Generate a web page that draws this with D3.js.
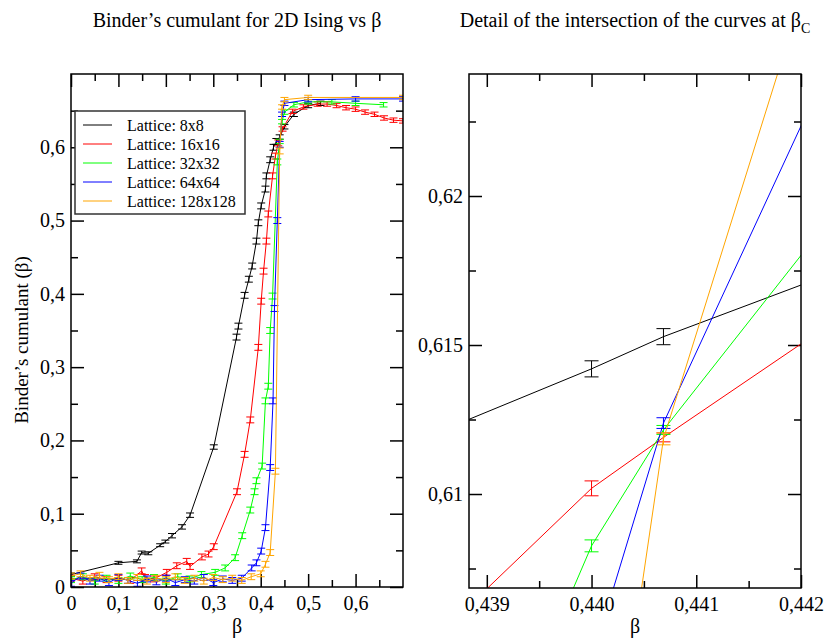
<!DOCTYPE html>
<html>
<head>
<meta charset="utf-8">
<script src="https://cdn.jsdelivr.net/npm/d3@7"></script>
<style>
  body { margin: 0; background: #fff; }
  svg text { font-family: "Liberation Serif", "DejaVu Serif", serif; }
</style>
</head>
<body>
<svg id="chart" width="825" height="640"></svg>
<script>
// Lattice sizes and colours
const lattices = ['8x8', '16x16', '32x32', '64x64', '128x128']
const colors = ['#000000', '#ff0000', '#00ff00', '#0000ff', '#ffa500']

// Left panel: [beta, U, error]
const u8 = [
  [0, 0.017, 0.002], [0.1, 0.033, 0.002], [0.139, 0.035, 0.002], [0.149, 0.047, 0.002],
  [0.163, 0.046, 0.002], [0.188, 0.057, 0.002], [0.199, 0.062, 0.002], [0.213, 0.070, 0.003],
  [0.234, 0.082, 0.003], [0.251, 0.098, 0.003], [0.301, 0.191, 0.003], [0.349, 0.341, 0.004],
  [0.353, 0.356, 0.004], [0.366, 0.398, 0.004], [0.375, 0.42, 0.004], [0.382, 0.438, 0.004],
  [0.391, 0.472, 0.004], [0.395, 0.497, 0.004], [0.401, 0.52, 0.004], [0.41, 0.543, 0.004],
  [0.412, 0.561, 0.004], [0.42, 0.583, 0.004], [0.427, 0.600, 0.004], [0.433, 0.608, 0.004],
  [0.44, 0.614, 0.003], [0.45, 0.628, 0.003], [0.47, 0.645, 0.003], [0.5, 0.657, 0.003],
  [0.526, 0.660, 0.003]
]
const u16 = [
  [0, 0.012, 0.004], [0.025, 0.008, 0.004], [0.05, 0.014, 0.004], [0.075, 0.010, 0.004],
  [0.1, 0.012, 0.004], [0.125, 0.009, 0.004], [0.149, 0.022, 0.004], [0.156, 0.013, 0.004],
  [0.175, 0.011, 0.004], [0.202, 0.020, 0.004], [0.223, 0.029, 0.004], [0.244, 0.035, 0.004],
  [0.251, 0.028, 0.004], [0.276, 0.041, 0.004], [0.29, 0.045, 0.004], [0.301, 0.055, 0.004],
  [0.35, 0.130, 0.004], [0.366, 0.181, 0.004], [0.378, 0.228, 0.004], [0.395, 0.327, 0.004],
  [0.401, 0.39, 0.004], [0.406, 0.431, 0.004], [0.412, 0.472, 0.004], [0.416, 0.509, 0.004],
  [0.425, 0.561, 0.004], [0.431, 0.588, 0.004], [0.437, 0.606, 0.004], [0.446, 0.625, 0.003],
  [0.467, 0.649, 0.003], [0.49, 0.655, 0.003], [0.52, 0.659, 0.003], [0.54, 0.659, 0.003],
  [0.56, 0.657, 0.003], [0.58, 0.654, 0.003], [0.6, 0.652, 0.003], [0.62, 0.648, 0.003],
  [0.64, 0.645, 0.003], [0.66, 0.640, 0.003], [0.68, 0.637, 0.003], [0.7, 0.636, 0.003]
]
const u32 = [
  [0, 0.010, 0.004], [0.025, 0.014, 0.004], [0.05, 0.008, 0.004], [0.075, 0.012, 0.004],
  [0.1, 0.009, 0.004], [0.125, 0.015, 0.004], [0.15, 0.010, 0.004], [0.175, 0.013, 0.004],
  [0.2, 0.008, 0.004], [0.225, 0.014, 0.004], [0.25, 0.011, 0.004], [0.275, 0.017, 0.004],
  [0.304, 0.020, 0.004], [0.325, 0.026, 0.004], [0.346, 0.040, 0.004], [0.361, 0.070, 0.004],
  [0.378, 0.105, 0.004], [0.387, 0.130, 0.004], [0.391, 0.145, 0.004], [0.403, 0.165, 0.004],
  [0.41, 0.254, 0.004], [0.416, 0.274, 0.004], [0.42, 0.35, 0.004], [0.425, 0.397, 0.004],
  [0.435, 0.58, 0.004], [0.44, 0.608, 0.003], [0.445, 0.635, 0.003], [0.45, 0.648, 0.003],
  [0.47, 0.658, 0.003], [0.5, 0.662, 0.003], [0.55, 0.662, 0.003], [0.6, 0.660, 0.003],
  [0.659, 0.658, 0.003]
]
const u64 = [
  [0, 0.005, 0.004], [0.02, 0.015, 0.004], [0.04, 0.008, 0.004], [0.06, 0.012, 0.004],
  [0.08, 0.006, 0.004], [0.1, 0.013, 0.004], [0.12, 0.009, 0.004], [0.14, 0.005, 0.004],
  [0.16, 0.011, 0.004], [0.18, 0.007, 0.004], [0.2, 0.012, 0.004], [0.22, 0.006, 0.004],
  [0.24, 0.010, 0.004], [0.26, 0.008, 0.004], [0.28, 0.013, 0.004], [0.3, 0.006, 0.004],
  [0.32, 0.011, 0.004], [0.34, 0.009, 0.004], [0.36, 0.012, 0.004], [0.381, 0.026, 0.004],
  [0.391, 0.033, 0.004], [0.401, 0.049, 0.004], [0.41, 0.081, 0.004], [0.42, 0.163, 0.004],
  [0.426, 0.254, 0.004], [0.429, 0.38, 0.004], [0.435, 0.5, 0.004], [0.44, 0.604, 0.004],
  [0.445, 0.645, 0.003], [0.45, 0.660, 0.003], [0.5, 0.665, 0.003], [0.6, 0.666, 0.003],
  [0.7, 0.666, 0.003]
]
const u128 = [
  [0, 0.015, 0.004], [0.02, 0.018, 0.004], [0.04, 0.012, 0.004], [0.06, 0.016, 0.004],
  [0.08, 0.010, 0.004], [0.1, 0.014, 0.004], [0.12, 0.009, 0.004], [0.14, 0.013, 0.004],
  [0.16, 0.008, 0.004], [0.18, 0.012, 0.004], [0.2, 0.010, 0.004], [0.22, 0.014, 0.004],
  [0.24, 0.009, 0.004], [0.26, 0.012, 0.004], [0.28, 0.008, 0.004], [0.3, 0.013, 0.004],
  [0.32, 0.010, 0.004], [0.34, 0.012, 0.004], [0.36, 0.009, 0.004], [0.38, 0.014, 0.004],
  [0.4, 0.018, 0.004], [0.41, 0.031, 0.004], [0.42, 0.047, 0.004], [0.431, 0.158, 0.004],
  [0.44, 0.595, 0.004], [0.445, 0.655, 0.003], [0.45, 0.665, 0.003], [0.5, 0.668, 0.003],
  [0.7, 0.668, 0.003]
]
const leftSeries = [u8, u16, u32, u64, u128]

// Right panel (detail): [beta, U, error]
const d8 = [[0.435, 0.60696, 0.00027], [0.440, 0.61420, 0.00027], [0.4406868, 0.61528, 0.00027], [0.445, 0.62097, 0.00027]]
const d16 = [[0.435, 0.59333, 0.00025], [0.440, 0.61019, 0.00025], [0.4406868, 0.61190, 0.00015], [0.445, 0.62220, 0.00025]]
const d32 = [[0.435, 0.56730, 0.0002], [0.440, 0.60826, 0.0002], [0.4406868, 0.61215, 0.00015], [0.445, 0.63139, 0.0002]]
const d64 = [[0.435, 0.54000, 0.0002], [0.440, 0.60441, 0.0002], [0.4406868, 0.61238, 0.00018], [0.445, 0.64512, 0.0002]]
const d128 = [[0.435, 0.50000, 0.0002], [0.440, 0.59538, 0.0002], [0.4406868, 0.61185, 0.0002], [0.445, 0.66033, 0.0002]]
const rightSeries = [d8, d16, d32, d64, d128]

// Ticks
const leftMajor = [0, 0.1, 0.2, 0.3, 0.4, 0.5, 0.6]
const leftMinor = [0.05, 0.15, 0.25, 0.35, 0.45, 0.55, 0.65]
const rightXMajor = [0.439, 0.440, 0.441, 0.442]
const rightXMinor = [0.4395, 0.4405, 0.4415]
const rightYMajor = [0.61, 0.615, 0.62]
const rightYMinor = [0.6075, 0.6125, 0.6175, 0.6225]

const serif = '"Liberation Serif", "DejaVu Serif", serif'
const loc = d3.formatLocale({decimal: ',', thousands: '.', grouping: [3], currency: ['', '']})
const fmtL = d => d === 0 ? '0' : loc.format('.1f')(d)
const fmtRX = loc.format('.3f')
const fmtRY = loc.format('.3~f')

const svg = d3.select('#chart')

function drawPanel(p) {
  let g = svg.append('g')
  let clipId = 'clip' + p.name
  svg.append('clipPath').attr('id', clipId)
    .append('rect')
    .attr('x', p.x.range()[0]).attr('y', p.y.range()[1])
    .attr('width', p.x.range()[1] - p.x.range()[0])
    .attr('height', p.y.range()[0] - p.y.range()[1])

  let bottom = p.y.range()[0], top = p.y.range()[1]
  let left = p.x.range()[0], right = p.x.range()[1]

  // major + minor ticks, inward on all four sides
  let axes = [
    [d3.axisBottom, 'translate(0,' + bottom + ')', p.x, p.xMajor, p.xMinor, p.fx],
    [d3.axisTop, 'translate(0,' + top + ')', p.x, p.xMajor, p.xMinor, null],
    [d3.axisLeft, 'translate(' + left + ',0)', p.y, p.yMajor, p.yMinor, p.fy],
    [d3.axisRight, 'translate(' + right + ',0)', p.y, p.yMajor, p.yMinor, null]
  ]
  axes.forEach(a => {
    let major = a[0](a[2]).tickValues(a[3]).tickSize(-13).tickSizeOuter(0)
      .tickPadding(a[0] === d3.axisBottom ? 9 : 6)
      .tickFormat(a[5] ? a[5] : '')
    let minor = a[0](a[2]).tickValues(a[4]).tickSize(-7).tickSizeOuter(0).tickFormat('')
    let gm = g.append('g').attr('transform', a[1]).call(major).attr('font-family', serif)
    g.append('g').attr('transform', a[1]).call(minor)
    gm.selectAll('text').style('font-size', '20px').attr('fill', '#000')
    if (a[0] === d3.axisBottom) gm.selectAll('text').attr('dy', null).attr('y', 23)
  })
  g.selectAll('.domain').remove()
  g.selectAll('.tick line').attr('stroke', '#000').attr('stroke-width', 1.5)

  let series = g.append('g').attr('clip-path', 'url(#' + clipId + ')')
  p.series.forEach((s, i) => {
    let line = d3.line().x(d => p.x(d[0])).y(d => p.y(d[1]))
    series.append('path').datum(s)
      .attr('d', line)
      .attr('fill', 'none')
      .attr('stroke', colors[i])
      .attr('stroke-width', 1)
    let eb = series.append('g').attr('stroke', colors[i]).attr('stroke-width', 1)
    s.forEach(d => {
      let cx = p.x(d[0]), y0 = p.y(d[1] - d[2]), y1 = p.y(d[1] + d[2])
      eb.append('line').attr('x1', cx).attr('x2', cx).attr('y1', y0).attr('y2', y1)
      eb.append('line').attr('x1', cx - p.cap).attr('x2', cx + p.cap).attr('y1', y0).attr('y2', y0)
      eb.append('line').attr('x1', cx - p.cap).attr('x2', cx + p.cap).attr('y1', y1).attr('y2', y1)
    })
  })

  // frame
  g.append('rect')
    .attr('x', left).attr('y', top)
    .attr('width', right - left).attr('height', bottom - top)
    .attr('fill', 'none').attr('stroke', '#000').attr('stroke-width', 1.5)

  // x label
  g.append('text')
    .attr('x', (left + right) / 2).attr('y', 633)
    .attr('text-anchor', 'middle').style('font-size', '20px')
    .text('β')
  return g
}

// Left panel
let xL = d3.scaleLinear().domain([0, 0.7]).range([71, 403])
let yL = d3.scaleLinear().domain([0, 0.7]).range([587, 74])
let gL = drawPanel({name: 'L', x: xL, y: yL, xMajor: leftMajor, xMinor: leftMinor,
  yMajor: leftMajor, yMinor: leftMinor, fx: fmtL, fy: fmtL, series: leftSeries, cap: 4})

// Right panel
let xR = d3.scaleLinear().domain([0.43883, 0.442]).range([469, 801])
let yR = d3.scaleLinear().domain([0.606846, 0.624094]).range([588, 74])
let gR = drawPanel({name: 'R', x: xR, y: yR, xMajor: rightXMajor, xMinor: rightXMinor,
  yMajor: rightYMajor, yMinor: rightYMinor, fx: fmtRX, fy: fmtRY, series: rightSeries, cap: 7})

// Titles
svg.append('text').attr('x', 237).attr('y', 27).attr('text-anchor', 'middle')
  .style('font-size', '20px').text('Binder’s cumulant for 2D Ising vs β')
let t2 = svg.append('text').attr('x', 635).attr('y', 27).attr('text-anchor', 'middle')
  .style('font-size', '20px')
t2.append('tspan').text('Detail of the intersection of the curves at β')
t2.append('tspan').attr('dy', 6).style('font-size', '14px').text('C')

// Y label
svg.append('text')
  .attr('transform', 'translate(28,340) rotate(-90)')
  .attr('text-anchor', 'middle').style('font-size', '19px')
  .text('Binder’s cumulant (β)')

// Legend
let lg = svg.append('g')
lg.append('rect').attr('x', 75).attr('y', 111).attr('width', 170).attr('height', 103)
  .attr('fill', '#fff').attr('stroke', '#333').attr('stroke-width', 1.5)
lattices.forEach((l, i) => {
  let yy = 125 + i * 19
  lg.append('line').attr('x1', 83).attr('x2', 112).attr('y1', yy).attr('y2', yy)
    .attr('stroke', colors[i]).attr('stroke-width', 1)
  lg.append('text').attr('x', 127).attr('y', yy).attr('dy', '0.35em')
    .style('font-size', '16px').text('Lattice: ' + l)
})
</script>
</body>
</html>
